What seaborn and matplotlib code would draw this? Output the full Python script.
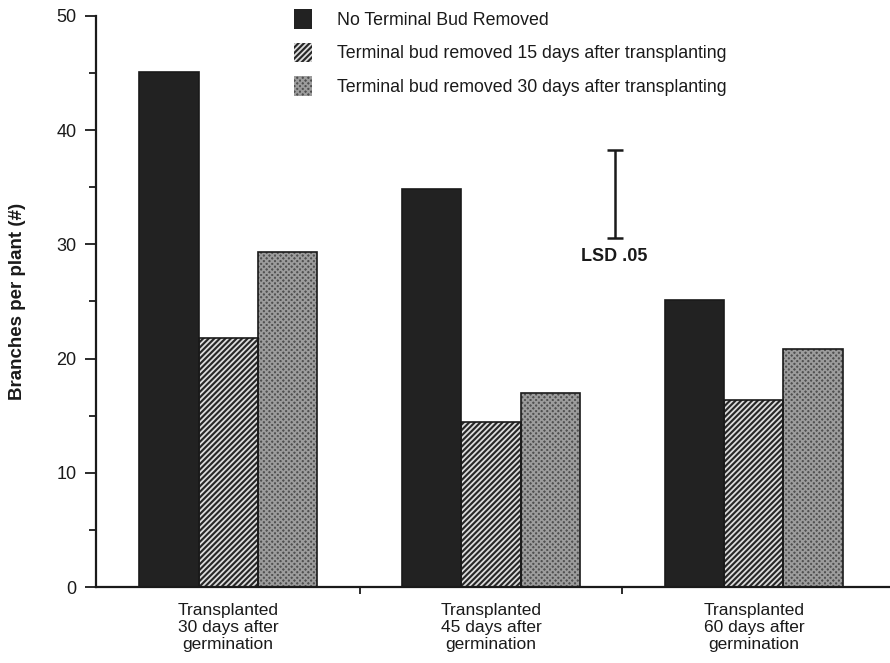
import matplotlib
matplotlib.use("Agg")
import matplotlib.pyplot as plt
import seaborn as sns
import pandas as pd
from matplotlib.patches import Rectangle, Patch
from matplotlib.ticker import MultipleLocator

groups = ["Transplanted\n30 days after\ngermination",
          "Transplanted\n45 days after\ngermination",
          "Transplanted\n60 days after\ngermination"]
treatments = ["No Terminal Bud Removed",
              "Terminal bud removed 15 days after transplanting",
              "Terminal bud removed 30 days after transplanting"]
no_removal = [45.1, 34.85, 25.1]
removed_15 = [21.8, 14.45, 16.4]
removed_30 = [29.3, 17.0, 20.8]
lsd_low, lsd_high = 30.6, 38.3
lsd_label = "LSD .05"
ylabel = "Branches per plant (#)"

sns.set_theme(style="white")
plt.rcParams['font.family'] = ['Liberation Sans', 'DejaVu Sans']
plt.rcParams['hatch.linewidth'] = 1.3

rows = []
for vals, t in zip([no_removal, removed_15, removed_30], treatments):
    for g, v in zip(groups, vals):
        rows.append({"group": g, "treatment": t, "value": v})
df = pd.DataFrame(rows)

fig = plt.figure(figsize=(8.9, 6.63), dpi=100)
ax = fig.add_axes([0.108, 0.1146, 0.892, 0.8613])

face = ["#222222", "#262626", "#505050"]
hatches = [None, "//////", "xxxxxx"]
hcol = ["#222222", "#dcdcdc", "#9c9c9c"]
ink = "#1a1a1a"

sns.barplot(data=df, x="group", y="value", hue="treatment", hue_order=treatments,
            order=groups, palette=face, width=0.675, gap=0, ax=ax, legend=False,
            errorbar=None, saturation=1)

bars = [p for p in ax.patches if isinstance(p, Rectangle)]
for i, p in enumerate(bars):
    k = i // 3
    p.set_facecolor(face[k])
    if hatches[k]:
        p.set_hatch(hatches[k])
    p.set_edgecolor(hcol[k])
    p.set_linewidth(0)
    ax.add_patch(Rectangle((p.get_x(), p.get_y()), p.get_width(), p.get_height(),
                           fill=False, edgecolor=ink, linewidth=1.2, zorder=p.get_zorder() + 0.1))

ax.set_xlim(-0.502, 2.518)
ax.set_ylim(0, 50)
ax.yaxis.set_major_locator(MultipleLocator(10))
ax.yaxis.set_minor_locator(MultipleLocator(5))
ax.tick_params(axis="y", which="major", direction="out", length=8, width=1.3, left=True,
               labelsize=13, colors=ink, pad=6)
ax.tick_params(axis="y", which="minor", direction="out", length=5, width=1.3, left=True, colors=ink)
ax.set_xticks([0.5, 1.5])
ax.set_xticklabels([])
ax.tick_params(axis="x", which="major", direction="out", length=5, width=1.3, bottom=True, colors=ink)
for i, g in enumerate(groups):
    ax.text(i, -1.4, g, ha="center", va="top", fontsize=12.5, linespacing=1.17,
            transform=ax.transData, clip_on=False, color=ink)

for s in ["top", "right"]:
    ax.spines[s].set_visible(False)
for s in ["left", "bottom"]:
    ax.spines[s].set_linewidth(1.6)
    ax.spines[s].set_color(ink)

ax.set_xlabel("")
ax.set_ylabel(ylabel, fontsize=13.5, fontweight="bold", labelpad=22, color=ink)

mid = (lsd_low + lsd_high) / 2
ax.errorbar([1.47], [mid], yerr=[[mid - lsd_low], [lsd_high - mid]], fmt="none",
            ecolor=ink, elinewidth=1.8, capsize=5.5, capthick=1.8)
ax.text(1.467, lsd_low - 0.9, lsd_label, ha="center", va="top", fontsize=13,
        fontweight="bold", color=ink)

handles = []
for k in range(3):
    handles.append(Patch(facecolor=face[k], edgecolor=hcol[k] if hatches[k] else face[k],
                         hatch=hatches[k], linewidth=0))
leg = ax.legend(handles, treatments, loc="upper left", bbox_to_anchor=(0.229, 1.04),
                frameon=False, fontsize=12.8, handlelength=1.0, handleheight=1.3,
                labelspacing=0.78, handletextpad=1.4)
for t in leg.get_texts():
    t.set_color(ink)

fig.savefig("out.png", dpi=100, facecolor="white")
